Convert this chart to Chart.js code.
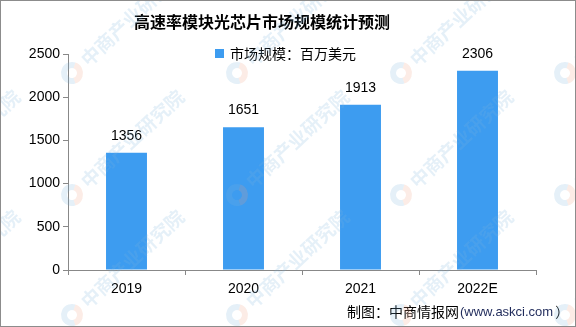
<!DOCTYPE html>
<html>
<head>
<meta charset="utf-8">
<script src="https://cdn.jsdelivr.net/npm/chart.js@4"></script>
<style>
  html, body { margin: 0; padding: 0; background: #fff; }
  #wrap { width: 576px; height: 327px; }
</style>
</head>
<body>
<div id="wrap"><canvas id="chart1" width="576" height="327"></canvas></div>

<script>
    // data
    const years = ['2019', '2020', '2021', '2022E'];
    const marketSize = [1356, 1651, 1913, 2306];
    const seriesName = '市场规模：百万美元';
    const yTicks = [0, 500, 1000, 1500, 2000, 2500];
    const titleText = '高速率模块光芯片市场规模统计预测';
    const sourceText = '制图：中商情报网';
    const sourceUrl = '(www.askci.com';
    const watermark = '中商产业研究院';

    const barColor = '#3d9cf0';
    const cjk = '"Noto Sans CJK SC", sans-serif';
    const latin = '"Liberation Sans", Arial, sans-serif';

    // title, legend, value labels, footer, watermark and frame
    const decor = {
        id: 'decor',
        afterDatasetsDraw(chart) {
            const ctx = chart.ctx;
            ctx.save();

            // value labels above bars
            const meta = chart.getDatasetMeta(0);
            ctx.fillStyle = '#000';
            ctx.font = '14px ' + latin;
            ctx.textAlign = 'center';
            ctx.textBaseline = 'middle';
            meta.data.forEach(function(bar, i) {
                ctx.fillText(String(marketSize[i]), bar.x, bar.y - 17);
            });

            // title
            ctx.font = 'bold 16px ' + cjk;
            ctx.fillText(titleText, 262, 22);

            // legend
            ctx.fillStyle = barColor;
            ctx.fillRect(215, 49, 9, 9);
            ctx.fillStyle = '#000';
            ctx.font = '14px ' + cjk;
            ctx.textAlign = 'left';
            ctx.fillText(seriesName, 230, 54);

            // footer
            ctx.font = '14px ' + cjk;
            ctx.fillText(sourceText, 347, 312);
            let w = ctx.measureText(sourceText).width;
            ctx.fillStyle = '#1f2a5a';
            ctx.font = '13px ' + latin;
            ctx.fillText(sourceUrl, 348 + w, 312);
            let w2 = ctx.measureText(sourceUrl).width;
            ctx.fillStyle = '#000';
            ctx.font = '14px ' + cjk;
            ctx.fillText('）', 350 + w + w2, 312);

            // watermark tiles
            const xs = [-92, 72, 237, 401, 565];
            const ys = [-48, 73, 195, 315];
            xs.forEach(function(x) {
                ys.forEach(function(y) {
                    ctx.save();
                    ctx.globalAlpha = 0.2;
                    ctx.translate(x, y);
                    ctx.lineWidth = 6;
                    ctx.strokeStyle = '#7fb4dc';
                    ctx.beginPath();
                    ctx.arc(0, 0, 8, Math.PI * 0.4, Math.PI * 1.6);
                    ctx.stroke();
                    ctx.strokeStyle = '#f0a080';
                    ctx.beginPath();
                    ctx.arc(0, 0, 8, -Math.PI * 0.4, Math.PI * 0.4);
                    ctx.stroke();
                    ctx.rotate(-0.75);
                    ctx.fillStyle = '#7fb4dc';
                    ctx.font = 'bold 19px ' + cjk;
                    ctx.textAlign = 'left';
                    ctx.textBaseline = 'middle';
                    ctx.fillText(watermark, 16, 0);
                    ctx.restore();
                });
            });

            // frame
            ctx.strokeStyle = '#8c8c8c';
            ctx.lineWidth = 1;
            ctx.strokeRect(0.5, 0.5, 575, 326);
            ctx.restore();
        }
    };

    function load_chart() {
        const ctx = document.getElementById('chart1');

        new Chart(ctx, {
            type: 'bar',
            data: {
                labels: years,
                datasets: [{
                    label: seriesName,
                    data: marketSize,
                    backgroundColor: barColor,
                    borderWidth: 0,
                    barPercentage: 0.35,
                    categoryPercentage: 1
                }]
            },
            options: {
                responsive: false,
                animation: false,
                layout: { padding: { left: 0, right: 40, top: 54, bottom: 0 } },
                plugins: {
                    legend: { display: false },
                    title: { display: false },
                    tooltip: { enabled: false }
                },
                scales: {
                    x: {
                        grid: {
                            offset: true,
                            drawOnChartArea: false,
                            drawTicks: true,
                            tickLength: 5,
                            color: '#888'
                        },
                        border: { color: '#888' },
                        ticks: {
                            color: '#000',
                            padding: 6,
                            font: { family: latin, size: 14 }
                        },
                        afterFit: function(scale) { scale.height = 57; }
                    },
                    y: {
                        min: 0,
                        max: 2500,
                        afterBuildTicks: function(scale) {
                            scale.ticks = yTicks.map(v => ({ value: v }));
                        },
                        grid: {
                            drawOnChartArea: false,
                            drawTicks: true,
                            tickLength: 5,
                            color: '#888'
                        },
                        border: { color: '#888' },
                        ticks: {
                            color: '#000',
                            padding: 3,
                            font: { family: latin, size: 14 },
                            callback: function(v) { return String(v); }
                        },
                        afterFit: function(scale) { scale.width = 68; }
                    }
                }
            },
            plugins: [decor]
        });
    }

    load_chart();
</script>
</body>
</html>
